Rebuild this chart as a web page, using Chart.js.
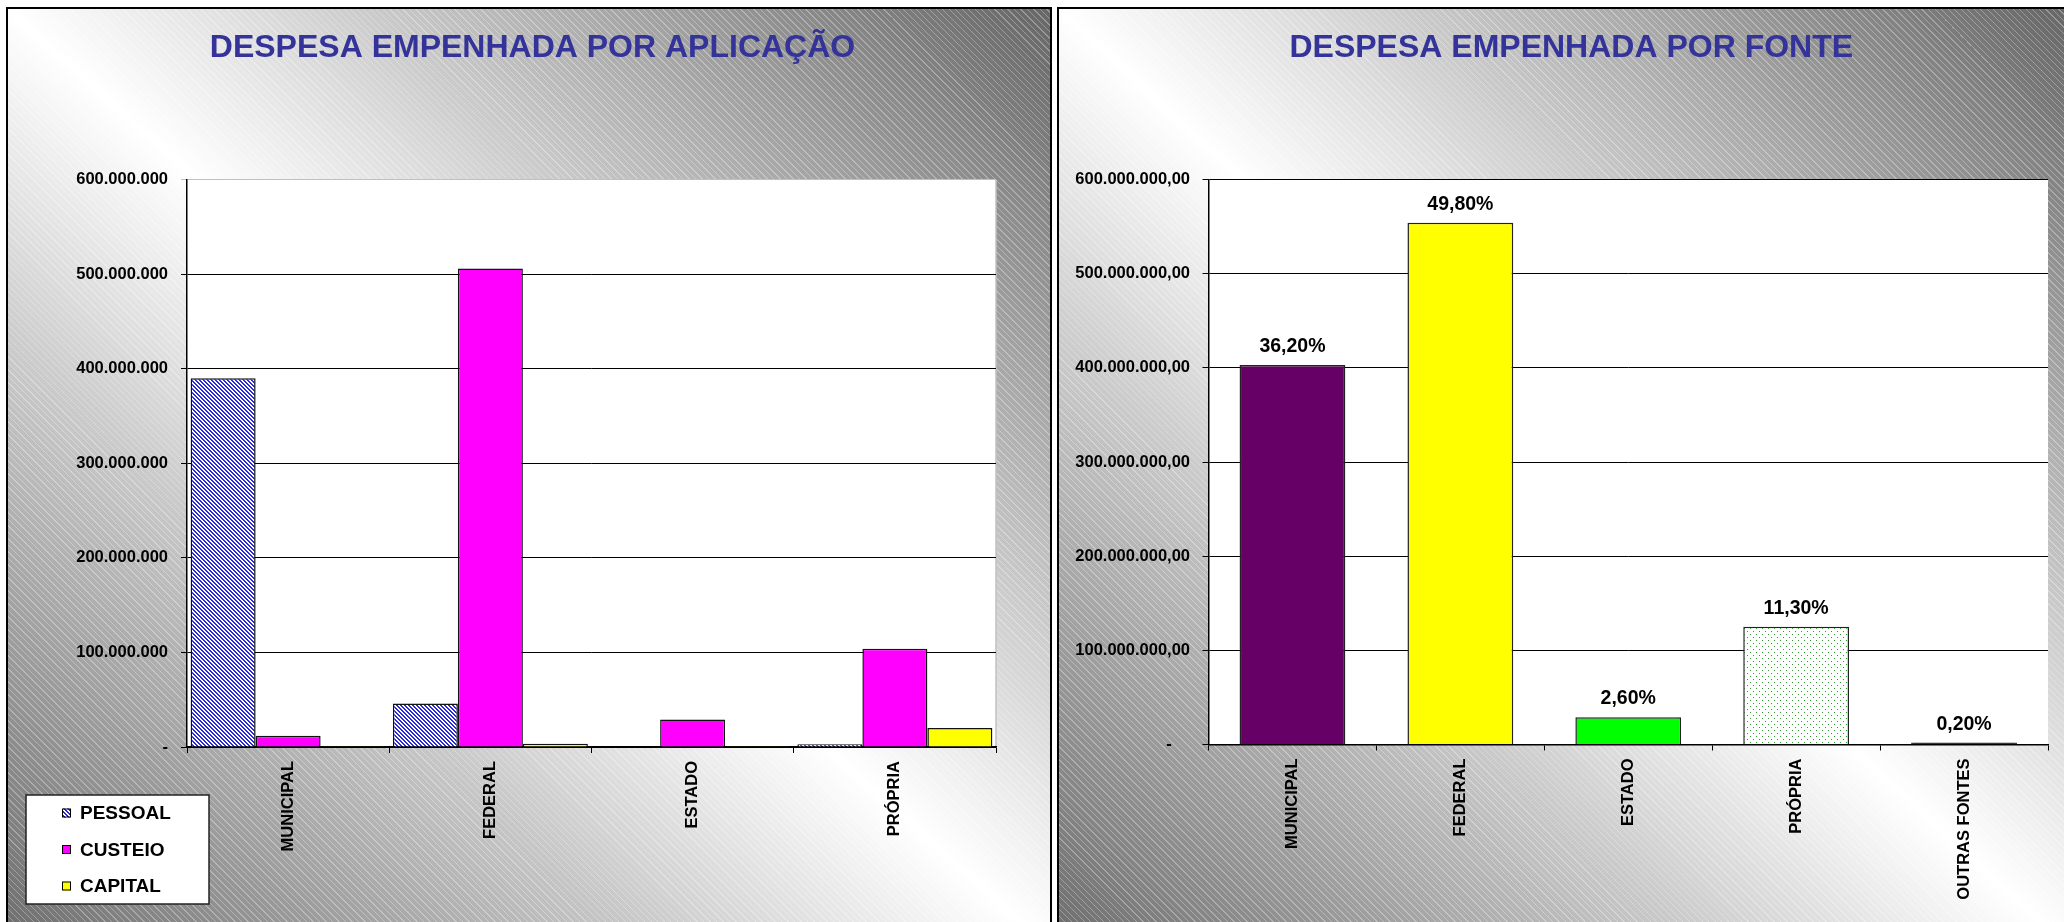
<!DOCTYPE html>
<html>
<head>
<meta charset="utf-8">
<title>Despesa empenhada</title>
<script src="https://cdn.jsdelivr.net/npm/chart.js@4.4.1/dist/chart.umd.min.js"></script>
<style>
  html, body { margin: 0; padding: 0; background: #fff; overflow: hidden; }
  body { width: 2064px; height: 922px; position: relative; }
  .panel {
    position: absolute; top: 7px; height: 940px;
    border: 2px solid #000;
    background:
      repeating-linear-gradient(45deg, rgba(255,255,255,0.3) 0px, rgba(255,255,255,0.3) 1px, rgba(255,255,255,0) 1px, rgba(255,255,255,0) 4.6px),
      linear-gradient(to top right, #6c6c6c 0%, #ffffff 50%, #666666 100%);
  }
  #p1 { left: 6px; width: 1042px; }
  #p2 { left: 1057px; width: 1010px; }
  .panel canvas { position: absolute; left: 0; top: 0; }
</style>
</head>
<body>
<div class="panel" id="p1"><canvas id="c1" width="1042" height="913"></canvas></div>
<div class="panel" id="p2"><canvas id="c2" width="1005" height="913"></canvas></div>
<script>
// ---------- Data ----------
var aplicCategorias = ['MUNICIPAL', 'FEDERAL', 'ESTADO', 'PRÓPRIA'];
var pessoal = [390000000, 46000000, 0, 3000000];
var custeio = [12000000, 506000000, 29000000, 104000000];
var capital = [800000, 3500000, 800000, 20000000];

var fonteCategorias = ['MUNICIPAL', 'FEDERAL', 'ESTADO', 'PRÓPRIA', 'OUTRAS FONTES'];
var fonteValores = [403000000, 554000000, 29000000, 125000000, 2000000];
var fontePercent = ['36,20%', '49,80%', '2,60%', '11,30%', '0,20%'];

var yMax = 600000000;
var yStep = 100000000;

// ---------- Helpers ----------
var FONT = "'Liberation Sans', Arial, sans-serif";
Chart.defaults.font.family = FONT;
Chart.defaults.font.weight = 'bold';
Chart.defaults.color = '#000';

function milhar(v) {
  return String(Math.round(v)).replace(/\B(?=(\d{3})+(?!\d))/g, '.');
}

// diagonal hatch (blue on white)
function hatch(color) {
  var c = document.createElement('canvas');
  c.width = 4; c.height = 4;
  var g = c.getContext('2d');
  g.fillStyle = '#fff'; g.fillRect(0, 0, 4, 4);
  g.fillStyle = color;
  for (var i = 0; i < 4; i++) {
    g.fillRect(i, i, 1, 1);
    g.fillRect((i + 1) % 4, i, 1, 1);
  }
  return g.createPattern(c, 'repeat');
}

// sparse dots (green on white)
function dots(color) {
  var c = document.createElement('canvas');
  c.width = 6; c.height = 6;
  var g = c.getContext('2d');
  g.fillStyle = '#fff'; g.fillRect(0, 0, 6, 6);
  g.fillStyle = color;
  g.fillRect(1, 1, 1, 1);
  g.fillRect(4, 4, 1, 1);
  return g.createPattern(c, 'repeat');
}

var tickFont = { size: 16.5, weight: 'bold' };

// ---------- Plugins ----------
var plotFundo = {
  id: 'plotFundo',
  beforeDraw: function (chart, args, opts) {
    var a = chart.chartArea, ctx = chart.ctx;
    ctx.save();
    ctx.fillStyle = '#fff';
    ctx.fillRect(a.left, a.top, a.right - a.left, a.bottom - a.top);
    if (opts.borda) {
      ctx.strokeStyle = opts.borda;
      ctx.lineWidth = 1.5;
      ctx.beginPath();
      ctx.moveTo(a.right, a.top);
      ctx.lineTo(a.right, a.bottom);
      ctx.stroke();
    }
    ctx.restore();
  }
};

var legendaCaixa = {
  id: 'legendaCaixa',
  afterDraw: function (chart, args, o) {
    var ctx = chart.ctx;
    ctx.save();
    ctx.fillStyle = '#fff';
    ctx.fillRect(o.x, o.y, o.w, o.h);
    ctx.strokeStyle = '#222';
    ctx.lineWidth = 1.5;
    ctx.strokeRect(o.x, o.y, o.w, o.h);
    ctx.font = 'bold 19px ' + FONT;
    ctx.textBaseline = 'middle';
    chart.data.datasets.forEach(function (ds, i) {
      var cy = o.y + o.first + i * o.gap;
      ctx.fillStyle = ds.backgroundColor;
      ctx.fillRect(o.sx, cy - 4.5, 9, 9);
      ctx.strokeStyle = '#000';
      ctx.lineWidth = 1;
      ctx.strokeRect(o.sx + 0.5, cy - 4, 8, 8);
      ctx.fillStyle = '#000';
      ctx.fillText(ds.label, o.tx, cy + 1);
    });
    ctx.restore();
  }
};

var rotulosPct = {
  id: 'rotulosPct',
  afterDatasetsDraw: function (chart, args, o) {
    var ctx = chart.ctx, meta = chart.getDatasetMeta(0);
    ctx.save();
    ctx.font = 'bold 19.5px ' + FONT;
    ctx.fillStyle = '#000';
    ctx.textAlign = 'center';
    ctx.textBaseline = 'alphabetic';
    meta.data.forEach(function (bar, i) {
      ctx.fillText(o.textos[i], bar.x, bar.y - 13);
    });
    ctx.restore();
  }
};

// ======================================================================
// Chart 1 — Despesa por aplicação (grouped bars)
// ======================================================================
new Chart(document.getElementById('c1'), {
  type: 'bar',
  data: {
    labels: aplicCategorias,
    datasets: [
      { label: 'PESSOAL', data: pessoal, backgroundColor: hatch('#2a2ae0'), borderColor: '#111', borderWidth: 1.5 },
      { label: 'CUSTEIO', data: custeio, backgroundColor: '#ff00ff', borderColor: '#111', borderWidth: 1.5 },
      { label: 'CAPITAL', data: capital, backgroundColor: '#ffff00', borderColor: '#111', borderWidth: 1.5 }
    ]
  },
  options: {
    responsive: false,
    animation: false,
    layout: { padding: { left: 61, right: 54, top: 0, bottom: 0 } },
    datasets: { bar: { categoryPercentage: 0.964, barPercentage: 1 } },
    scales: {
      x: {
        grid: { drawOnChartArea: false, color: '#000', tickLength: 6, offset: true },
        border: { color: '#000', width: 1.5 },
        ticks: { minRotation: 90, maxRotation: 90, autoSkip: false, padding: 8, font: tickFont, color: '#000' },
        afterFit: function (s) { s.height = 175; }
      },
      y: {
        min: 0, max: yMax,
        grid: {
          color: function (c) { return c.tick && c.tick.value === yMax ? '#c0c0c0' : '#000'; },
          tickLength: 6, lineWidth: 1
        },
        border: { color: '#000', width: 1.5 },
        ticks: {
          stepSize: yStep, padding: 13, font: tickFont, color: '#000',
          callback: function (v) { return v === 0 ? '-' : milhar(v); }
        },
        afterFit: function (s) { s.width = 118; }
      }
    },
    plugins: {
      legend: { display: false },
      tooltip: { enabled: false },
      title: {
        display: true,
        text: 'DESPESA EMPENHADA POR APLICAÇÃO',
        color: '#333399',
        font: { size: 32, weight: 'bold', lineHeight: 1.2 },
        padding: { top: 20.3, bottom: 111.8 }
      },
      plotFundo: { borda: '#c0c0c0' },
      legendaCaixa: { x: 18, y: 786, w: 183, h: 109, first: 18, gap: 36.5, sx: 54, tx: 72 }
    }
  },
  plugins: [plotFundo, legendaCaixa]
});

// ======================================================================
// Chart 2 — Despesa por fonte (single series, per-bar colours)
// ======================================================================
new Chart(document.getElementById('c2'), {
  type: 'bar',
  data: {
    labels: fonteCategorias,
    datasets: [{
      label: 'FONTE',
      data: fonteValores,
      backgroundColor: ['#660066', '#ffff00', '#00ff00', dots('#2f9a2f'), '#000033'],
      borderColor: '#222',
      borderWidth: 1.5
    }]
  },
  options: {
    responsive: false,
    animation: false,
    layout: { padding: { left: 0, right: 16, top: 0, bottom: 0 } },
    datasets: { bar: { categoryPercentage: 1, barPercentage: 0.63 } },
    scales: {
      x: {
        grid: { drawOnChartArea: false, color: '#000', tickLength: 6, offset: true },
        border: { color: '#000', width: 1.5 },
        ticks: { minRotation: 90, maxRotation: 90, autoSkip: false, padding: 8, font: tickFont, color: '#000' },
        afterFit: function (s) { s.height = 177.5; }
      },
      y: {
        min: 0, max: yMax,
        grid: { color: '#000', tickLength: 6, lineWidth: 1 },
        border: { color: '#000', width: 1.5 },
        ticks: {
          stepSize: yStep, padding: 12.5, font: tickFont, color: '#000',
          callback: function (v) { return v === 0 ? '-    ' : milhar(v) + ',00'; }
        },
        afterFit: function (s) { s.width = 149.5; }
      }
    },
    plugins: {
      legend: { display: false },
      tooltip: { enabled: false },
      title: {
        display: true,
        // leading spaces nudge the centred title right, as in the original sheet
        text: '    DESPESA EMPENHADA POR FONTE',
        color: '#333399',
        font: { size: 32, weight: 'bold', lineHeight: 1.2 },
        padding: { top: 20.3, bottom: 111.8 }
      },
      plotFundo: {},
      rotulosPct: { textos: fontePercent }
    }
  },
  plugins: [plotFundo, rotulosPct]
});
</script>
</body>
</html>
